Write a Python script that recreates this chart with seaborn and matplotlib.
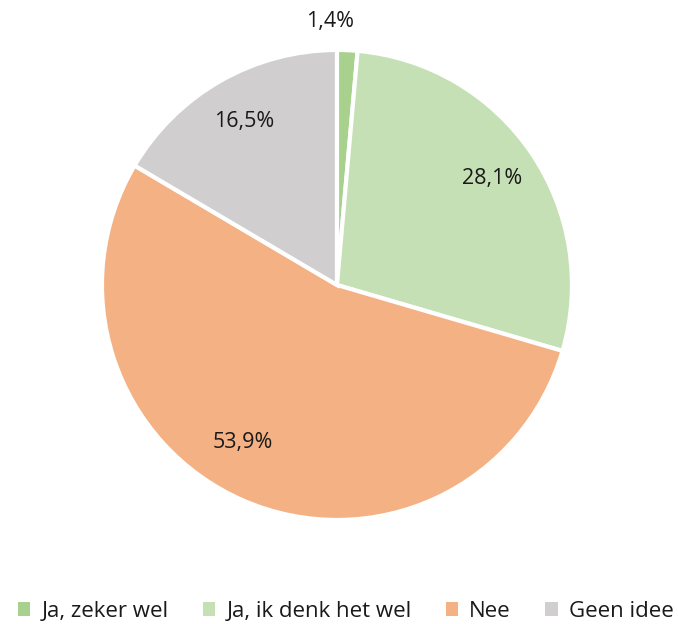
import matplotlib
matplotlib.use('Agg')
import matplotlib.pyplot as plt
import seaborn as sns
import numpy as np
from matplotlib.patches import Patch

sns.set_style("white")
plt.rcParams['font.family'] = ['Open Sans', 'DejaVu Sans']

categories = ['Ja, zeker wel', 'Ja, ik denk het wel', 'Nee', 'Geen idee']
values = [1.4, 28.1, 53.9, 16.5]
colors = ['#a9d18e', '#c5e0b4', '#f4b183', '#d0cece']

fig = plt.figure(figsize=(6.78, 6.24), dpi=100)
ax = fig.add_axes([0.1504, 0.1667, 0.6932, 0.7532])

wedges, _ = ax.pie(values, colors=colors, startangle=90, counterclock=False,
                   wedgeprops=dict(edgecolor='white', linewidth=3))
ax.set_xlim(-1, 1)
ax.set_ylim(-1, 1)
ax.set_aspect('equal')

# percentage labels
total = sum(values)
angle = 90
for i, v in enumerate(values):
    span = 360 * v / total
    mid = np.deg2rad(angle - span / 2)
    angle -= span
    txt = f"{v:.1f}".replace('.', ',') + '%'
    if i == 0:
        # tiny slice: label sits above the pie
        ax.text(-0.03, 1.12, txt, ha='center', va='center', fontsize=15.5, color='#1a1a1a')
    elif span > 180:
        ax.text(0.78 * np.cos(mid - 0.13), 0.78 * np.sin(mid - 0.13), txt,
                ha='center', va='center', fontsize=15.5, color='#1a1a1a')
    else:
        ax.text(0.8 * np.cos(mid), 0.8 * np.sin(mid), txt, ha='center', va='center',
                fontsize=15.5, color='#1a1a1a')

handles = [Patch(facecolor=c, edgecolor='none') for c in colors]
fig.legend(handles, categories, loc='center', bbox_to_anchor=(0.51, 0.02), ncol=4,
           frameon=False, fontsize=16, handlelength=0.55, handleheight=0.55,
           handletextpad=0.5, columnspacing=1.55, labelcolor='#1a1a1a')

fig.savefig('out.png', dpi=100)
